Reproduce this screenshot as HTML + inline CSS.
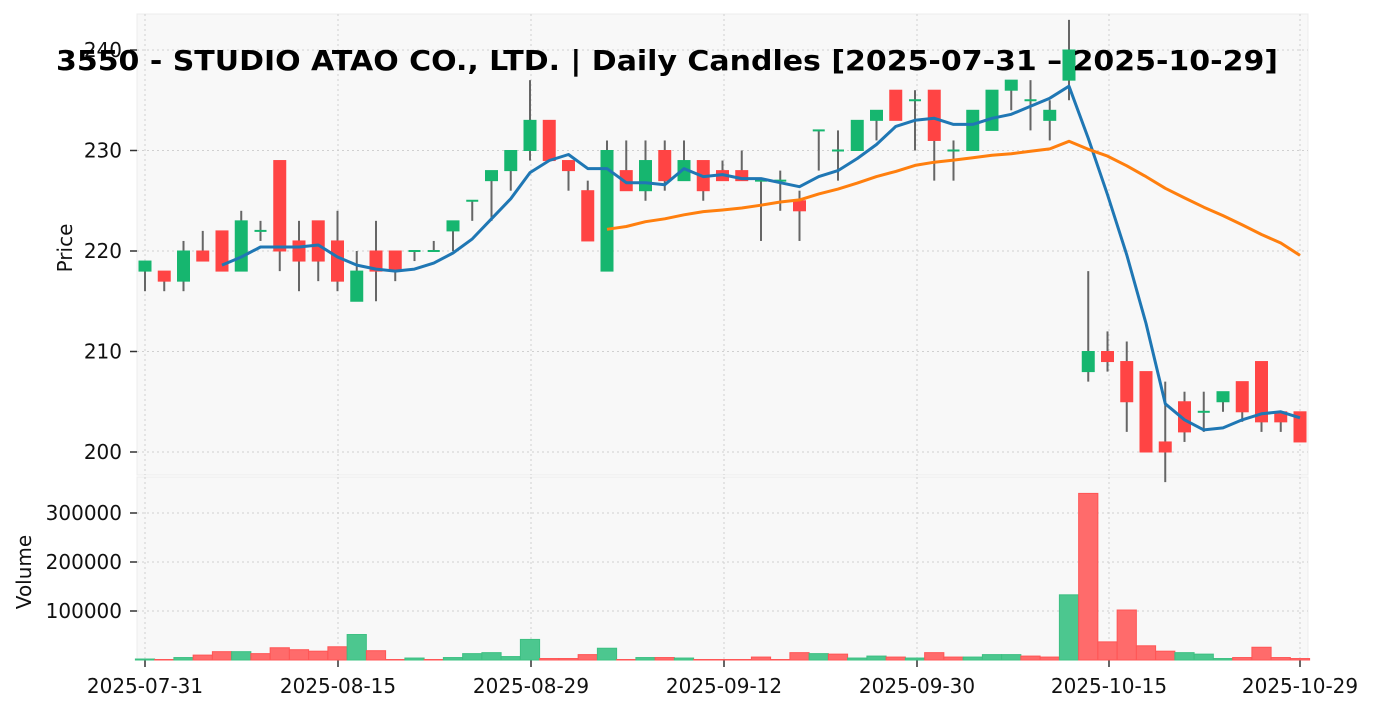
<!DOCTYPE html>
<html><head><meta charset="utf-8"><style>
html,body{margin:0;padding:0;background:#fff;}
svg{display:block;font-family:"DejaVu Sans","Liberation Sans",sans-serif;}
</style></head><body>
<svg id="s" width="1376" height="711" viewBox="0 0 1376 711" xmlns="http://www.w3.org/2000/svg"></svg>
<script>
const C=[[218,219,216,219],[218,218,216,217],[217,221,216,220],[220,222,219,219],[222,222,218,218],[218,224,218,223],[222,223,221,222],[229,229,218,220],[221,223,216,219],[223,223,217,219],[221,224,216,217],[215,220,215,218],[220,223,215,218],[220,220,217,218],[220,220,219,220],[220,221,220,220],[222,223,220,223],[225,225,223,225],[227,228,223,228],[228,230,226,230],[230,237,229,233],[233,233,229,229],[229,229,226,228],[226,227,221,221],[218,231,218,230],[228,231,226,226],[226,231,225,229],[230,231,226,227],[227,231,227,229],[229,229,225,226],[228,229,227,227],[228,230,227,227],[227,227,221,227],[227,228,224,227],[225,226,221,224],[232,232,228,232],[230,232,227,230],[230,233,230,233],[233,234,231,234],[236,236,233,233],[235,236,230,235],[236,236,227,231],[230,231,227,230],[230,234,230,234],[232,236,232,236],[236,237,234,237],[235,237,232,235],[233,235,231,234],[237,243,235,240],[208,218,207,210],[210,212,208,209],[209,211,202,205],[208,208,200,200],[201,207,197,200],[205,206,201,202],[204,206,202,204],[205,206,204,206],[207,207,203,204],[209,209,202,203],[204,204,202,203],[204,204,201,201]];
const V=[[2,'g'],[1,'r'],[5,'g'],[10,'r'],[17,'r'],[17,'g'],[13,'r'],[25,'r'],[21,'r'],[18,'r'],[27,'r'],[52,'g'],[19,'r'],[1,'r'],[4,'g'],[1,'r'],[5,'g'],[13,'g'],[15,'g'],[7,'g'],[42,'g'],[3,'r'],[3,'r'],[11,'r'],[24,'g'],[1,'r'],[5,'g'],[5,'r'],[4,'g'],[1,'r'],[1,'r'],[1,'r'],[6,'r'],[1,'r'],[15,'r'],[13,'g'],[12,'r'],[4,'g'],[8,'g'],[6,'r'],[4,'g'],[15,'r'],[6,'r'],[6,'g'],[11,'g'],[11,'g'],[8,'r'],[6,'r'],[133,'g'],[340,'r'],[37,'r'],[102,'r'],[29,'r'],[18,'r'],[15,'g'],[12,'g'],[3,'g'],[5,'r'],[26,'r'],[5,'r'],[3,'r']];
const X=i=>145+i*19.25, Y=p=>452-(p-200)*10.05, VY=v=>660-v*0.49;
let h='';
h+='<rect x="137" y="14" width="1171" height="461" fill="#f8f8f8" stroke="#ececec"/>';
h+='<rect x="137" y="477" width="1171" height="183" fill="#f8f8f8" stroke="#ececec"/>';
const tx=[[145,'2025-07-31'],[338,'2025-08-15'],[531,'2025-08-29'],[724,'2025-09-12'],[917,'2025-09-30'],[1109,'2025-10-15'],[1300,'2025-10-29']];
for(const [x] of tx){h+=`<line x1="${x}" y1="14" x2="${x}" y2="475" stroke="#d0d0d0" stroke-dasharray="2,3"/><line x1="${x}" y1="477" x2="${x}" y2="660" stroke="#d0d0d0" stroke-dasharray="2,3"/>`;}
for(const p of [200,210,220,230,240]){const y=Y(p);h+=`<line x1="137" y1="${y}" x2="1308" y2="${y}" stroke="#d0d0d0" stroke-dasharray="2,3"/><line x1="130" y1="${y}" x2="137" y2="${y}" stroke="#333" stroke-width="1.5"/><text x="122" y="${y+7}" font-size="20" text-anchor="end" fill="#111">${p}</text>`;}
for(const v of [100,200,300]){const y=VY(v);h+=`<line x1="137" y1="${y}" x2="1308" y2="${y}" stroke="#d0d0d0" stroke-dasharray="2,3"/><line x1="130" y1="${y}" x2="137" y2="${y}" stroke="#333" stroke-width="1.5"/><text x="122" y="${y+7}" font-size="20" text-anchor="end" fill="#111">${v}000</text>`;}
for(const [x,t] of tx){h+=`<line x1="${x}" y1="660" x2="${x}" y2="667" stroke="#333" stroke-width="1.5"/><text x="${x}" y="693" font-size="20" text-anchor="middle" fill="#111">${t}</text>`;}
V.forEach(([v,c],i)=>{const y=VY(v);h+=`<rect x="${X(i)-9.6}" y="${y}" width="19.2" height="${660-y}" fill="${c=='g'?'#4cc78f':'#ff6b6b'}" stroke="${c=='g'?'#3cc082':'#ff5555'}" stroke-width="1"/>`;});
C.forEach(([o,hi,lo,c],i)=>{const x=X(i);const col=c>=o?'#16b66f':'#ff4444';h+=`<line x1="${x}" y1="${Y(hi)}" x2="${x}" y2="${Y(lo)}" stroke="#666" stroke-width="2"/>`;
const t=Y(Math.max(o,c)),b=Y(Math.min(o,c));
if(b-t<1)h+=`<line x1="${x-6}" y1="${t}" x2="${x+6}" y2="${t}" stroke="${col}" stroke-width="2"/>`;else h+=`<rect x="${x-6}" y="${t}" width="12" height="${b-t}" fill="${col}" stroke="${col}" stroke-width="1"/>`;});
function ma(n,col){let pts=[];for(let i=n-1;i<C.length;i++){let s=0;for(let k=i-n+1;k<=i;k++)s+=C[k][3];pts.push(X(i).toFixed(1)+','+Y(s/n).toFixed(1));}h+=`<polyline points="${pts.join(' ')}" fill="none" stroke="${col}" stroke-width="3" stroke-linejoin="round"/>`;}
ma(5,'#1f77b4');ma(25,'#ff7f0e');
h+='<text x="72" y="248" font-size="20" text-anchor="middle" fill="#111" transform="rotate(-90 72 248)">Price</text>';
h+='<text x="31" y="572" font-size="20" text-anchor="middle" fill="#111" transform="rotate(-90 31 572)">Volume</text>';
h+='<text x="56" y="70" font-size="28" font-weight="bold" fill="#000" textLength="1222" lengthAdjust="spacingAndGlyphs">3550 - STUDIO ATAO CO., LTD. | Daily Candles [2025-07-31 – 2025-10-29]</text>';
document.getElementById('s').innerHTML=h;
</script>
</body></html>
